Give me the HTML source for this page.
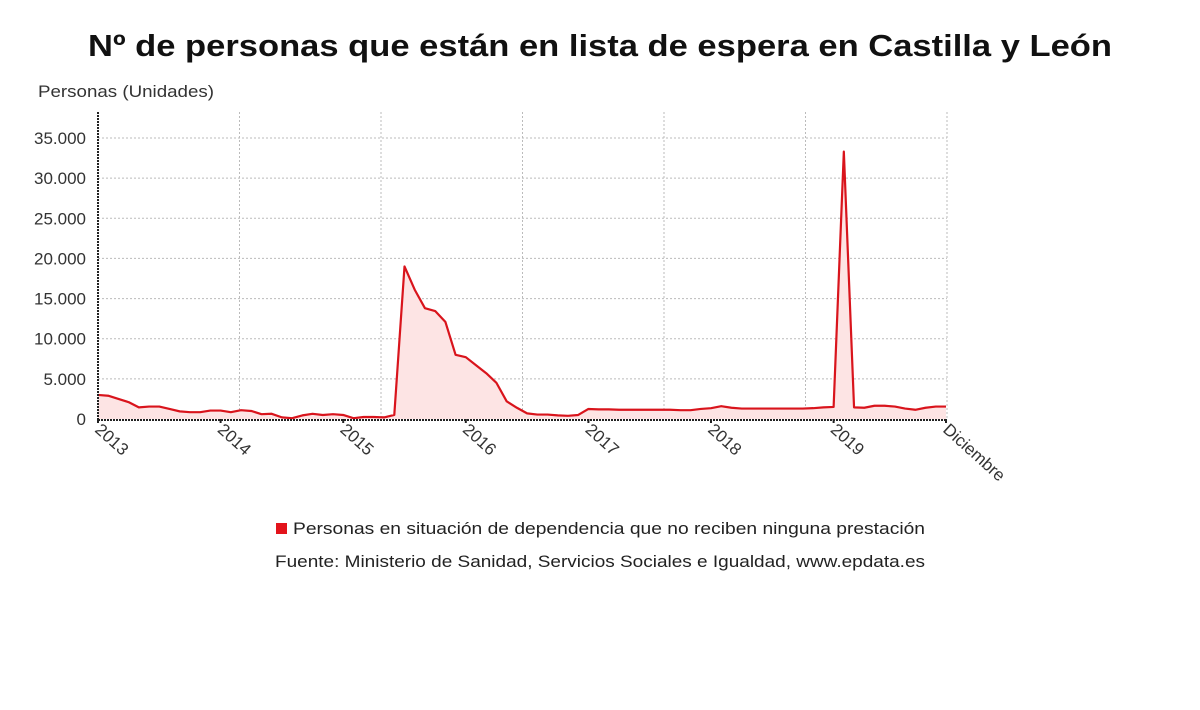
<!DOCTYPE html>
<html><head><meta charset="utf-8">
<style>
body{margin:0;background:#fff;width:1200px;height:705px;overflow:hidden;font-family:"Liberation Sans",sans-serif}
</style></head><body>
<svg id="chart" width="1200" height="705" font-family="Liberation Sans, sans-serif">
<text x="88" y="56" textLength="1024" lengthAdjust="spacingAndGlyphs" font-size="31" font-weight="bold" fill="#111">Nº de personas que están en lista de espera en Castilla y León</text>
<text x="38" y="97" textLength="176" lengthAdjust="spacingAndGlyphs" font-size="17" fill="#333">Personas (Unidades)</text>
<g id="grid"></g><g id="series"></g><g id="axes"></g>
<rect x="276" y="523" width="11" height="11" fill="#e3131b"/>
<text x="293" y="534" textLength="632" lengthAdjust="spacingAndGlyphs" font-size="17" fill="#222">Personas en situación de dependencia que no reciben ninguna prestación</text>
<text x="275" y="567" textLength="650" lengthAdjust="spacingAndGlyphs" font-size="17" fill="#222">Fuente: Ministerio de Sanidad, Servicios Sociales e Igualdad, www.epdata.es</text>
</svg>
<script>
const yTicks=[0,5000,10000,15000,20000,25000,30000,35000];
const yTickLabels=["0","5.000","10.000","15.000","20.000","25.000","30.000","35.000"];
const xLabels=["2013","2014","2015","2016","2017","2018","2019","Diciembre"];
const xLabelIdx=[0,12,24,36,48,60,72,83];
const values=[3000,2900,2500,2100,1450,1550,1550,1250,950,850,850,1050,
1050,850,1100,1000,600,650,200,100,450,650,500,600,
500,100,250,250,200,500,19000,16100,13800,13450,12100,8000,
7700,6700,5700,4500,2200,1400,700,550,550,450,400,500,
1250,1200,1200,1150,1150,1150,1150,1150,1150,1100,1100,1250,
1350,1600,1400,1300,1300,1300,1300,1300,1300,1300,1350,1450,
1500,33300,1450,1400,1650,1650,1550,1300,1150,1400,1550,1550];
const X0=98,X1=946,Y0=419,Y1=138,TOP=112;
const xs=i=>X0+(X1-X0)*i/(values.length-1);
const ys=v=>Y0-(Y0-Y1)*v/35000;
const NS="http://www.w3.org/2000/svg";
function mk(tag,attrs,parent){const e=document.createElementNS(NS,tag);for(const k in attrs)e.setAttribute(k,attrs[k]);parent.appendChild(e);return e;}
const grid=document.getElementById('grid'),ser=document.getElementById('series'),ax=document.getElementById('axes');
yTicks.forEach((t,i)=>{
 if(t>0){const l=mk('line',{x1:X0,x2:947,y1:ys(t),y2:ys(t),stroke:'#bbb','stroke-dasharray':'2,2'},grid);
 
 }
 const tx=mk('text',{x:86,y:ys(t)+6,'text-anchor':'end','font-size':17,fill:'#333'},ax);
 tx.textContent=yTickLabels[i];
 
 
});
for(let k=1;k<=6;k++){const gx=X0+(947-X0)*k/6;
 const l=mk('line',{x1:gx,x2:gx,y1:TOP,y2:Y0,stroke:'#bbb','stroke-dasharray':'2,2'},grid);
 
 }
let d='M'+xs(0)+','+Y0;values.forEach((v,i)=>d+=' L'+xs(i)+','+ys(v));d+=' L'+xs(values.length-1)+','+Y0+' Z';
const area=mk('path',{d:d,fill:'#fde4e4'},ser);


const line=mk('polyline',{points:values.map((v,i)=>xs(i)+','+ys(v)).join(' '),fill:'none',stroke:'#d9141c','stroke-width':2.2,'stroke-linejoin':'round'},ser);


const ya=mk('line',{x1:X0,x2:X0,y1:TOP,y2:Y0,stroke:'#222','stroke-width':2,'stroke-dasharray':'2,1'},ax);


const xa=mk('line',{x1:X0,x2:X1,y1:Y0+1,y2:Y0+1,stroke:'#222','stroke-width':2,'stroke-dasharray':'2,1'},ax);


xLabels.forEach((lab,i)=>{const x=xs(xLabelIdx[i]);
 const tk=mk('line',{x1:x,x2:x,y1:Y0,y2:Y0+4,stroke:'#222','stroke-width':2},ax);
 
 
 const tx=x-4, ty=Y0+12;
 const t=mk('text',{x:tx,y:ty,'font-size':17,fill:'#333',transform:'rotate(42 '+tx+' '+ty+')'},ax);
 t.textContent=lab;
 
 
});
</script>
</body></html>
